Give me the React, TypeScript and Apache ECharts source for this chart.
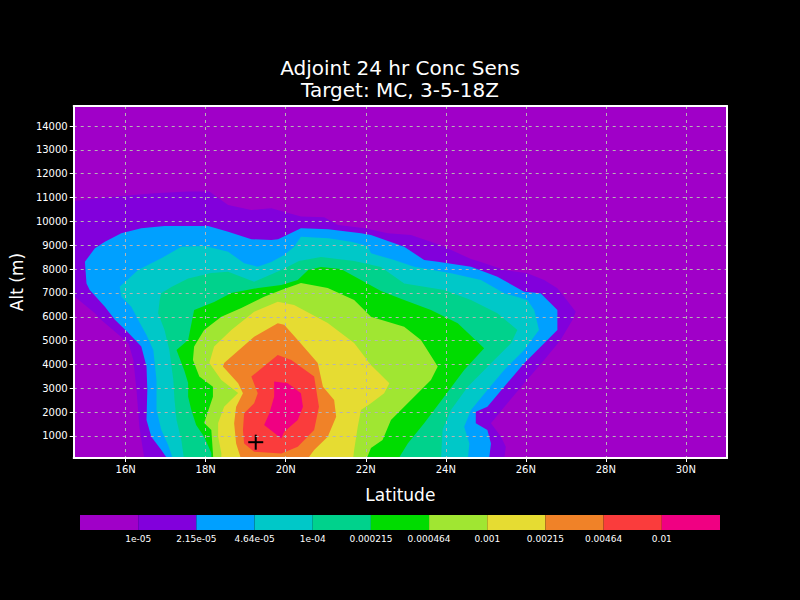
import React, { useEffect, useRef } from 'react';
import * as echarts from 'echarts';

// Axis ticks
const latTicks = [16, 18, 20, 22, 24, 26, 28, 30];
const altTicks = [1000, 2000, 3000, 4000, 5000, 6000, 7000, 8000, 9000, 10000, 11000, 12000, 13000, 14000];

// Shading levels (GrADS rainbow)
const levelColors = ['#a000c8', '#8200dc', '#00a0ff', '#00c8c8', '#00d28c', '#00dc00', '#a0e632', '#e6dc32', '#f08228', '#fa3c3c', '#f00082'];
const levelLabels = ['1e-05', '2.15e-05', '4.64e-05', '1e-04', '0.000215', '0.000464', '0.001', '0.00215', '0.00464', '0.01'];

// Contour outlines [latitude, altitude m] enclosing value >= each level
const contour_1e05 = [[14.5, 10830], [15.97, 11070], [16.72, 11180], [17.56, 11250], [18.09, 11250], [18.56, 10690], [19.14, 10480], [19.64, 10550], [20.38, 10200], [20.96, 10170], [21.31, 9850], [21.98, 9710], [22.55, 9500], [23.13, 9430], [23.88, 9000], [24.63, 8420], [24.88, 8300], [25.46, 7960], [26.04, 7820], [26.46, 7540], [26.79, 7200], [26.96, 6840], [27.25, 6210], [27.17, 5870], [26.87, 5030], [26.46, 4190], [25.96, 3210], [25.54, 2370], [25.13, 1530], [25.38, 970], [25.5, 550], [25.46, 0], [16.47, 0], [16.34, 1390], [16.27, 2930], [16.19, 4190], [16.07, 4890], [15.39, 5865], [15.23, 6146], [14.5, 7150]];
const contour_215e05 = [[14.98, 8310], [15.23, 8870], [15.48, 9150], [15.89, 9500], [16.39, 9710], [16.97, 9810], [18.06, 9810], [18.56, 9570], [19.14, 9250], [19.64, 9220], [19.81, 9250], [20.38, 9710], [21.06, 9670], [21.88, 9500], [22.13, 9430], [22.96, 8940], [23.46, 8380], [23.8, 8310], [24.63, 8100], [25.29, 7680], [25.96, 7050], [26.37, 6990], [26.79, 6280], [26.79, 5450], [26.46, 4890], [25.96, 4050], [25.46, 3070], [25.04, 2230], [24.75, 2020], [24.75, 1530], [25.04, 1250], [25.13, 690], [25.08, 0], [17.06, 0], [16.89, 410], [16.64, 970], [16.52, 1670], [16.54, 2930], [16.52, 3910], [16.39, 4750], [16.07, 5320], [15.73, 5870], [15.48, 6420], [15.1, 7120], [15.02, 7400]];
const contour_464e05 = [[15.85, 7260], [16.31, 7960], [16.89, 8450], [17.39, 8940], [17.97, 8970], [18.56, 8730], [18.96, 8240], [19.3, 8100], [19.64, 8300], [19.96, 8590], [20.21, 8940], [20.38, 9360], [21.06, 9290], [21.63, 9150], [22.05, 8970], [22.13, 8660], [22.71, 8380], [23.21, 8100], [24.13, 7820], [24.88, 7540], [25.46, 6990], [26.04, 6700], [26.21, 6280], [26.33, 5450], [25.96, 4610], [25.46, 3770], [25.04, 2930], [24.63, 2090], [24.46, 1390], [24.59, 690], [24.55, 0], [17.19, 0], [17.06, 620], [16.89, 1250], [16.77, 2090], [16.77, 3350], [16.69, 4610], [16.52, 5240], [16.31, 5870], [16.14, 6420], [15.89, 6840]];
const contour_1e04 = [[16.89, 6990], [17.14, 7250], [17.56, 7600], [18.14, 7840], [18.56, 7890], [19.21, 7470], [19.89, 7960], [20.33, 8340], [20.88, 8510], [21.71, 8340], [22.38, 8090], [22.96, 7400], [23.96, 7120], [24.63, 6700], [25.29, 6150], [25.79, 5450], [25.63, 4890], [25.13, 4050], [24.55, 3070], [24.13, 2090], [23.92, 1250], [23.88, 0], [17.46, 0], [17.39, 830], [17.27, 1670], [17.22, 2510], [17.19, 3350], [17.09, 4610], [16.97, 5450], [16.81, 6150], [16.85, 6700]];
const contour_215e04 = [[17.71, 6280], [18.21, 6620], [18.64, 7000], [19.31, 7210], [19.89, 7330], [20.3, 7540], [20.56, 7960], [20.88, 8090], [21.38, 8000], [21.88, 7540], [22.38, 7080], [22.96, 6700], [23.63, 6280], [24.3, 5730], [24.96, 4680], [24.46, 3770], [23.96, 2650], [23.46, 1530], [23.05, 690], [22.8, 0], [18.14, 0], [18.14, 290], [17.96, 970], [17.76, 1460], [17.64, 2090], [17.56, 2650], [17.56, 3220], [17.46, 3770], [17.27, 4610], [17.56, 5030]];
const contour_464e04 = [[20.38, 7420], [21.05, 7210], [21.71, 6700], [22.13, 6000], [22.96, 5580], [23.38, 5030], [23.8, 3910], [23.63, 3350], [23.13, 2510], [22.63, 1670], [22.42, 830], [22.13, 500], [22.01, 0], [18.19, 0], [18.18, 290], [18.14, 1250], [17.96, 1550], [18.18, 2650], [18.18, 3070], [17.84, 3490], [17.68, 4190], [17.71, 4750], [17.96, 5450], [18.39, 6000], [18.89, 6370], [19.46, 6840], [19.89, 7120]];
const contour_1e03 = [[19.8, 6630], [20.21, 6490], [21.05, 5740], [21.71, 4900], [22.13, 3980], [22.59, 3210], [22.46, 2790], [22.13, 2370], [21.88, 2090], [21.8, 1390], [21.71, 410], [21.68, 0], [18.39, 0], [18.39, 290], [18.31, 970], [18.31, 1550], [18.46, 2230], [18.81, 2800], [18.39, 3350], [18.09, 4060], [18.21, 4750], [18.64, 5450], [19.21, 6210]];
const contour_215e03 = [[19.8, 5730], [19.96, 5660], [20.3, 5030], [20.8, 4060], [20.93, 3070], [21.21, 2510], [21.26, 1810], [21.05, 970], [20.71, 410], [20.53, 0], [18.89, 0], [18.76, 690], [18.71, 1530], [18.76, 2230], [18.93, 2790], [18.81, 3210], [18.43, 3910], [18.46, 4060], [19.21, 5160]];
const contour_464e03 = [[19.8, 4400], [20.14, 4190], [20.71, 3490], [20.83, 2230], [20.71, 1250], [20.3, 550], [19.89, 270], [19.21, 340], [18.96, 690], [18.93, 1250], [18.96, 1950], [19.21, 2370], [19.3, 2790], [19.14, 3490]];
const contour_1e02 = [[19.71, 3280], [20.05, 3210], [20.38, 2790], [20.43, 2230], [20.3, 1670], [19.96, 1180], [19.89, 900], [19.46, 1460], [19.59, 1950], [19.71, 2650]];

// Target location marker [latitude, altitude m]
const targetPoint = [[19.25, 740]];

const contours = [contour_1e05, contour_215e05, contour_464e05, contour_1e04, contour_215e04, contour_464e04, contour_1e03, contour_215e03, contour_464e03, contour_1e02];

const FONT = 'DejaVu Sans';

export default function App() {
  const ref = useRef<HTMLDivElement>(null);
  useEffect(() => {
    const chart = echarts.init(ref.current!, null, { renderer: 'svg' });
    const gridLine = { show: true, lineStyle: { color: '#b4b4b4', type: [3, 4], width: 1 } };
    const option: any = {
      animation: false,
      backgroundColor: '#000',
      title: [
        { text: 'Adjoint 24 hr Conc Sens', left: 'center', top: 53, textStyle: { color: '#fff', fontSize: 20, fontWeight: 'normal', fontFamily: FONT } },
        { text: 'Target: MC, 3-5-18Z', left: 'center', top: 75, textStyle: { color: '#fff', fontSize: 20, fontWeight: 'normal', fontFamily: FONT } },
      ],
      grid: [
        { left: 72, top: 106, width: 655, height: 352, show: true, backgroundColor: levelColors[0], borderWidth: 0 },
        { left: 80, top: 515, width: 640, height: 15, show: false },
      ],
      xAxis: [
        {
          gridIndex: 0, type: 'value', min: 14.7, max: 31.03, position: 'bottom', z: 10,
          axisLine: { show: true, onZero: false, lineStyle: { color: '#fff', width: 2 } },
          axisTick: { show: true, customValues: latTicks, length: 4, lineStyle: { color: '#fff', width: 1 } },
          axisLabel: { customValues: latTicks, formatter: (v: number) => `${v}N`, color: '#fff', fontSize: 10, margin: 6, fontFamily: FONT },
          splitLine: gridLine,
          name: 'Latitude', nameLocation: 'middle', nameGap: 28,
          nameTextStyle: { color: '#fff', fontSize: 17, fontFamily: FONT },
        },
        {
          gridIndex: 0, type: 'value', min: 14.7, max: 31.03, position: 'top', z: 10,
          axisLine: { show: true, onZero: false, lineStyle: { color: '#fff', width: 2 } },
          axisTick: { show: false }, axisLabel: { show: false }, splitLine: { show: false },
        },
        {
          gridIndex: 1, type: 'value', min: 0, max: 11,
          axisLine: { show: false }, axisTick: { show: false }, splitLine: { show: false },
          axisLabel: { customValues: [1, 2, 3, 4, 5, 6, 7, 8, 9, 10], formatter: (v: number) => levelLabels[v - 1], color: '#fff', fontSize: 9, margin: 4, fontFamily: FONT },
        },
      ],
      yAxis: [
        {
          gridIndex: 0, type: 'value', min: 77, max: 14839, position: 'left', z: 10,
          axisLine: { show: true, onZero: false, lineStyle: { color: '#fff', width: 2 } },
          axisTick: { show: true, customValues: altTicks, length: 4, lineStyle: { color: '#fff', width: 1 } },
          axisLabel: { customValues: altTicks, formatter: (v: number) => String(v), color: '#fff', fontSize: 10, margin: 6, fontFamily: FONT },
          splitLine: gridLine,
          name: 'Alt (m)', nameLocation: 'middle', nameGap: 48, nameRotate: 90,
          nameTextStyle: { color: '#fff', fontSize: 17, fontFamily: FONT },
        },
        {
          gridIndex: 0, type: 'value', min: 77, max: 14839, position: 'right', z: 10,
          axisLine: { show: true, onZero: false, lineStyle: { color: '#fff', width: 2 } },
          axisTick: { show: false }, axisLabel: { show: false }, splitLine: { show: false },
        },
        { gridIndex: 1, type: 'value', min: 0, max: 1, show: false },
      ],
      series: [
        {
          type: 'custom', xAxisIndex: 0, yAxisIndex: 0, clip: true, silent: true, z: 2,
          data: contours.map((_, i) => [i]),
          renderItem: (params: any, api: any) => {
            const idx = api.value(0);
            const pts = contours[idx].map((p) => api.coord(p));
            return { type: 'polygon', shape: { points: pts }, style: { fill: levelColors[idx + 1], stroke: null } };
          },
        },
        {
          type: 'custom', xAxisIndex: 0, yAxisIndex: 0, clip: true, silent: true, z: 5,
          data: targetPoint,
          renderItem: (params: any, api: any) => {
            const c = api.coord([api.value(0), api.value(1)]);
            const s = 7.5;
            return {
              type: 'group',
              children: [
                { type: 'line', shape: { x1: c[0] - s, y1: c[1], x2: c[0] + s, y2: c[1] }, style: { stroke: '#000', lineWidth: 2 } },
                { type: 'line', shape: { x1: c[0], y1: c[1] - s, x2: c[0], y2: c[1] + s }, style: { stroke: '#000', lineWidth: 2 } },
              ],
            };
          },
        },
        {
          type: 'custom', xAxisIndex: 2, yAxisIndex: 2, silent: true,
          data: levelColors.map((_, i) => [i]),
          renderItem: (params: any, api: any) => {
            const i = api.value(0);
            const p0 = api.coord([i, 1]);
            const p1 = api.coord([i + 1, 0]);
            return { type: 'rect', shape: { x: p0[0], y: p0[1], width: p1[0] - p0[0], height: p1[1] - p0[1] }, style: { fill: levelColors[i] } };
          },
        },
      ],
    };
    chart.setOption(option);
    return () => chart.dispose();
  }, []);
  return <div ref={ref} style={{ position: 'fixed', left: 0, top: 0, width: 800, height: 600, background: '#000' }} />;
}
